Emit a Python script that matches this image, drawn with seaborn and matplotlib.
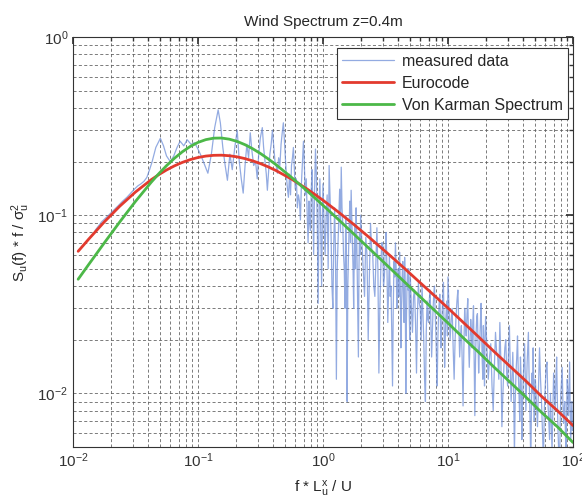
import matplotlib
matplotlib.use("Agg")
import numpy as np
import pandas as pd
import matplotlib.pyplot as plt
import seaborn as sns
from matplotlib.ticker import LogLocator, NullFormatter

# model curves (f*L/U, normalised spectrum)
curve_x = [0.011, 0.01334, 0.01778, 0.02371, 0.03162, 0.04217, 0.0487, 0.05623, 0.06494,
           0.07499, 0.0866, 0.1, 0.1155, 0.1334, 0.154, 0.1778, 0.2054, 0.2371, 0.2738,
           0.3162, 0.3652, 0.4217, 0.5623, 0.7499, 1.0, 1.334, 1.778, 2.371, 3.162, 4.217,
           5.623, 7.499, 10.0, 13.34, 17.78, 23.71, 31.62, 42.17, 56.23, 74.99, 100.0]
eurocode = [0.0627, 0.0733, 0.0916, 0.1124, 0.1349, 0.1580, 0.1691, 0.1796, 0.1893,
            0.1978, 0.2050, 0.2107, 0.2146, 0.2167, 0.2171, 0.2156, 0.2125, 0.2078, 0.2018,
            0.1947, 0.1866, 0.1779, 0.1592, 0.1399, 0.1213, 0.1039, 0.0883, 0.0745, 0.0625,
            0.0523, 0.0435, 0.0362, 0.0301, 0.0249, 0.0206, 0.0170, 0.0141, 0.0117, 0.0096,
            0.0080, 0.0066]
von_karman = [0.0437, 0.0528, 0.0698, 0.0918, 0.1195, 0.1528, 0.1712, 0.1901, 0.2089,
              0.2269, 0.2429, 0.2561, 0.2654, 0.2705, 0.2710, 0.2671, 0.2595, 0.2488, 0.2360,
              0.2218, 0.2068, 0.1918, 0.1626, 0.1364, 0.1136, 0.0943, 0.0780, 0.0645, 0.0533,
              0.0440, 0.0363, 0.0300, 0.0248, 0.0204, 0.0169, 0.0139, 0.0115, 0.0095, 0.0078,
              0.0065, 0.0053]

meas_x_low = [0.015, 0.017, 0.019, 0.021, 0.023, 0.025, 0.027, 0.029, 0.031, 0.033,
              0.035, 0.037, 0.039, 0.041, 0.043, 0.046, 0.05, 0.053, 0.056, 0.06,
              0.064, 0.068, 0.072, 0.077, 0.082, 0.088, 0.094, 0.1, 0.106, 0.112,
              0.12, 0.128, 0.136]
meas_y_low = [0.082, 0.092, 0.099, 0.106, 0.113, 0.12, 0.126, 0.133, 0.14, 0.146,
              0.15, 0.155, 0.163, 0.18, 0.2, 0.24, 0.27, 0.245, 0.215, 0.2,
              0.215, 0.24, 0.26, 0.245, 0.265, 0.25, 0.255, 0.235, 0.215, 0.195,
              0.172, 0.22, 0.31]

meas_x_mid = [0.145, 0.151, 0.158, 0.165, 0.172, 0.18, 0.188, 0.197, 0.206, 0.214,
              0.222, 0.23, 0.238, 0.246, 0.254, 0.262, 0.27, 0.279, 0.289, 0.298,
              0.306, 0.315, 0.327, 0.335, 0.344, 0.352, 0.359, 0.368, 0.376, 0.385,
              0.394, 0.404, 0.413, 0.422, 0.432, 0.442, 0.452, 0.462, 0.472, 0.482,
              0.492, 0.502, 0.512, 0.52, 0.529, 0.54, 0.55, 0.56, 0.57, 0.58,
              0.59, 0.6, 0.612, 0.624, 0.636, 0.648, 0.66, 0.672, 0.685, 0.698,
              0.71, 0.722, 0.735, 0.748, 0.76, 0.772, 0.783, 0.794, 0.806, 0.818,
              0.83, 0.842, 0.855, 0.871, 0.885, 0.9, 0.915, 0.93, 0.945, 0.96,
              0.975, 0.99]
meas_y_mid = [0.39, 0.33, 0.24, 0.19, 0.157, 0.22, 0.18, 0.24, 0.30, 0.2,
              0.16, 0.133, 0.19, 0.25, 0.21, 0.29, 0.23, 0.19, 0.2, 0.16,
              0.22, 0.27, 0.31, 0.24, 0.2, 0.17, 0.138, 0.18, 0.22, 0.25,
              0.30, 0.24, 0.2, 0.19, 0.172, 0.21, 0.19, 0.25, 0.29, 0.33,
              0.26, 0.2, 0.16, 0.14, 0.126, 0.17, 0.13, 0.19, 0.21, 0.24,
              0.18, 0.14, 0.16, 0.11, 0.13, 0.12, 0.094, 0.15, 0.2, 0.26,
              0.19, 0.13, 0.16, 0.1, 0.07, 0.12, 0.09, 0.082, 0.14, 0.18,
              0.11, 0.06, 0.13, 0.235, 0.17, 0.09, 0.032, 0.11, 0.16, 0.08,
              0.04, 0.1]

meas_x_hi1 = [1.0, 1.02, 1.04, 1.06, 1.08, 1.1, 1.12, 1.14, 1.16, 1.18,
              1.2, 1.22, 1.24, 1.26, 1.28, 1.3, 1.32, 1.34, 1.36, 1.38,
              1.4, 1.42, 1.44, 1.46, 1.48, 1.5, 1.52, 1.54, 1.56, 1.58,
              1.6, 1.62, 1.64, 1.66, 1.68, 1.7, 1.72, 1.74, 1.76, 1.78,
              1.8, 1.82, 1.84, 1.86, 1.88, 1.9, 1.92, 1.94, 1.96, 1.98]
meas_y_hi1 = [0.15, 0.09, 0.06, 0.1, 0.13, 0.05, 0.19, 0.12, 0.08, 0.04,
              0.03, 0.07, 0.11, 0.06, 0.012, 0.05, 0.07, 0.1, 0.14, 0.08,
              0.186, 0.11, 0.09, 0.06, 0.05, 0.03, 0.1, 0.06, 0.009, 0.04,
              0.06, 0.09, 0.12, 0.07, 0.138, 0.1, 0.07, 0.05, 0.03, 0.065,
              0.09, 0.05, 0.11, 0.08, 0.045, 0.025, 0.016, 0.05, 0.08, 0.06]

meas_x_hi2 = [2.0, 2.05, 2.1, 2.15, 2.2, 2.25, 2.3, 2.35, 2.4, 2.45,
              2.5, 2.55, 2.6, 2.65, 2.7, 2.75, 2.8, 2.85, 2.9, 2.95,
              3.0, 3.05, 3.1, 3.15, 3.2, 3.25, 3.3, 3.35, 3.4, 3.45,
              3.5, 3.55, 3.6, 3.65, 3.7, 3.75, 3.8, 3.85, 3.9, 3.95,
              4.0, 4.05, 4.1, 4.15, 4.2, 4.25, 4.3, 4.35, 4.4, 4.45,
              4.5, 4.55, 4.6, 4.65, 4.7, 4.75, 4.8, 4.85, 4.9, 4.95]
meas_y_hi2 = [0.1, 0.07, 0.05, 0.035, 0.075, 0.06, 0.02, 0.045, 0.09, 0.065,
              0.06, 0.04, 0.035, 0.055, 0.085, 0.05, 0.013, 0.03, 0.05, 0.07,
              0.07, 0.04, 0.045, 0.065, 0.08, 0.05, 0.025, 0.04, 0.06, 0.035,
              0.04, 0.022, 0.011, 0.03, 0.055, 0.045, 0.07, 0.05, 0.03, 0.042,
              0.05, 0.035, 0.062, 0.04, 0.018, 0.03, 0.045, 0.055, 0.035, 0.025,
              0.058, 0.04, 0.01, 0.025, 0.04, 0.05, 0.038, 0.05, 0.028, 0.02]

meas_x_hi3 = [5.0, 5.1, 5.2, 5.3, 5.4, 5.5, 5.6, 5.7, 5.8, 5.9,
              6.0, 6.1, 6.2, 6.3, 6.4, 6.5, 6.6, 6.7, 6.8, 6.9,
              7.0, 7.1, 7.2, 7.3, 7.4, 7.5, 7.6, 7.7, 7.8, 7.9,
              8.0, 8.1, 8.2, 8.3, 8.4, 8.5, 8.6, 8.7, 8.8, 8.9,
              9.0, 9.1, 9.2, 9.3, 9.4, 9.5, 9.6, 9.7, 9.8, 9.9]
meas_y_hi3 = [0.045, 0.03, 0.022, 0.035, 0.038, 0.025, 0.013, 0.028, 0.042, 0.032,
              0.03, 0.02, 0.041, 0.028, 0.02, 0.012, 0.009, 0.022, 0.033, 0.026,
              0.025, 0.034, 0.038, 0.024, 0.016, 0.022, 0.03, 0.036, 0.04, 0.028,
              0.022, 0.015, 0.011, 0.02, 0.027, 0.032, 0.036, 0.025, 0.018, 0.024,
              0.03, 0.036, 0.042, 0.025, 0.014, 0.02, 0.026, 0.03, 0.033, 0.021]

meas_x_hi4 = [10.0, 10.2, 10.4, 10.6, 10.8, 11.0, 11.2, 11.4, 11.6, 11.8,
              12.0, 12.2, 12.4, 12.6, 12.8, 13.0, 13.2, 13.4, 13.6, 13.8,
              14.0, 14.2, 14.4, 14.6, 14.8, 15.0, 15.2, 15.4, 15.6, 15.8,
              16.0, 16.2, 16.4, 16.6, 16.8, 17.0, 17.2, 17.4, 17.6, 17.8,
              18.0, 18.2, 18.4, 18.6, 18.8, 19.0, 19.2, 19.4, 19.6, 19.8]
meas_y_hi4 = [0.045, 0.03, 0.02, 0.026, 0.03, 0.018, 0.012, 0.02, 0.027, 0.033,
              0.038, 0.025, 0.016, 0.021, 0.024, 0.015, 0.0085, 0.018, 0.03, 0.024,
              0.021, 0.028, 0.034, 0.02, 0.014, 0.019, 0.026, 0.022, 0.018, 0.025,
              0.031, 0.016, 0.0075, 0.015, 0.022, 0.027, 0.028, 0.019, 0.013, 0.017,
              0.02, 0.026, 0.032, 0.021, 0.015, 0.012, 0.024, 0.018, 0.011, 0.02]

meas_x_hi5 = [20.0, 20.5, 21.0, 21.5, 22.0, 22.5, 23.0, 23.5, 24.0, 24.5,
              25.0, 25.5, 26.0, 26.5, 27.0, 27.5, 28.0, 28.5, 29.0, 29.5,
              30.0, 30.5, 31.0, 31.5, 32.0, 32.5, 33.0, 33.5, 34.0, 34.5,
              35.0, 35.5, 36.0, 36.5, 37.0, 37.5, 38.0, 38.5, 39.0, 39.5,
              40.0, 40.5, 41.0, 41.5, 42.0, 42.5, 43.0, 43.5, 44.0, 44.5,
              45.0, 45.5, 46.0, 46.5, 47.0, 47.5, 48.0, 48.5, 49.0, 49.5]
meas_y_hi5 = [0.027, 0.018, 0.012, 0.016, 0.019, 0.011, 0.008, 0.014, 0.022, 0.017,
              0.016, 0.012, 0.025, 0.015, 0.0065, 0.01, 0.014, 0.018, 0.02, 0.013,
              0.011, 0.017, 0.024, 0.014, 0.009, 0.012, 0.017, 0.011, 0.0045, 0.009,
              0.013, 0.016, 0.021, 0.013, 0.01, 0.007, 0.016, 0.012, 0.0055, 0.009,
              0.012, 0.015, 0.019, 0.012, 0.008, 0.011, 0.015, 0.018, 0.022, 0.013,
              0.0095, 0.006, 0.004, 0.008, 0.013, 0.01, 0.018, 0.012, 0.007, 0.01]

meas_x_hi6 = [50, 51, 52, 53, 54, 55, 56, 57, 58, 59,
              60, 61, 62, 63, 64, 65, 66, 67, 68, 69,
              70, 71, 72, 73, 74, 75, 76, 77, 78, 79,
              80, 81, 82, 83, 84, 85, 86, 87, 88, 89,
              90, 91, 92, 93, 94, 95, 96, 97, 98, 99, 100]
meas_y_hi6 = [0.012, 0.009, 0.0065, 0.011, 0.018, 0.012, 0.009, 0.006, 0.0042, 0.008,
              0.011, 0.014, 0.015, 0.009, 0.007, 0.0055, 0.01, 0.007, 0.0048, 0.008,
              0.013, 0.01, 0.008, 0.012, 0.016, 0.009, 0.006, 0.0045, 0.0035, 0.007,
              0.01, 0.012, 0.014, 0.009, 0.0068, 0.008, 0.009, 0.006, 0.0045, 0.008,
              0.012, 0.01, 0.0075, 0.011, 0.015, 0.008, 0.0055, 0.007, 0.009, 0.0062, 0.0065]

meas_x = meas_x_low + meas_x_mid + meas_x_hi1 + meas_x_hi2 + meas_x_hi3 + meas_x_hi4 + meas_x_hi5 + meas_x_hi6
meas_y = meas_y_low + meas_y_mid + meas_y_hi1 + meas_y_hi2 + meas_y_hi3 + meas_y_hi4 + meas_y_hi5 + meas_y_hi6

sns.set_theme(style="white")
plt.rcParams["font.family"] = ["Liberation Sans", "DejaVu Sans"]
plt.rcParams["mathtext.default"] = "regular"

fig = plt.figure(figsize=(5.82, 5.04), dpi=100)
ax = fig.add_axes([0.1254, 0.1131, 0.8591, 0.8135])
ax.set_xscale("log")
ax.set_yscale("log")

sns.lineplot(x=meas_x, y=meas_y, ax=ax, color="#6f8fd8", lw=0.9, alpha=0.75,
             sort=False, estimator=None, label="measured data")
sns.lineplot(x=curve_x, y=eurocode, ax=ax, color="#e23a2e", lw=2,
             sort=False, estimator=None, label="Eurocode")
sns.lineplot(x=curve_x, y=von_karman, ax=ax, color="#4cb848", lw=2,
             sort=False, estimator=None, label="Von Karman Spectrum")

ax.set_xlim(0.01, 100)
ax.set_ylim(0.005, 1)
ax.xaxis.set_minor_locator(LogLocator(base=10, subs=np.arange(2, 10), numticks=20))
ax.yaxis.set_minor_locator(LogLocator(base=10, subs=np.arange(2, 10), numticks=20))
ax.xaxis.set_minor_formatter(NullFormatter())
ax.yaxis.set_minor_formatter(NullFormatter())

ax.set_axisbelow(True)
ax.grid(True, which="both", linestyle=(0, (4, 3)), color="0.35", linewidth=0.55)
ax.tick_params(which="both", direction="in", top=True, right=True, labelsize=11, colors="0.2")
ax.tick_params(which="major", length=5)
ax.tick_params(which="minor", length=3)
for s in ax.spines.values():
    s.set_color("0.2")
    s.set_linewidth(0.8)

ax.set_title("Wind Spectrum z=0.4m", fontsize=11, pad=8, color="0.15")
ax.set_xlabel(r"f * $L_u^x$ / U", fontsize=11, labelpad=6, color="0.15")
ax.set_ylabel(r"$S_u$(f) * f / $\sigma_u^2$", fontsize=11, labelpad=4, color="0.15")

leg = ax.legend(loc="upper right", bbox_to_anchor=(0.99, 0.973), borderaxespad=0,
                fontsize=11.5, handlelength=3.2, handletextpad=0.5, labelspacing=0.45,
                borderpad=0.35, fancybox=False, framealpha=1, edgecolor="0.2")
leg.get_frame().set_linewidth(0.8)

plt.savefig("out.png", dpi=100)
